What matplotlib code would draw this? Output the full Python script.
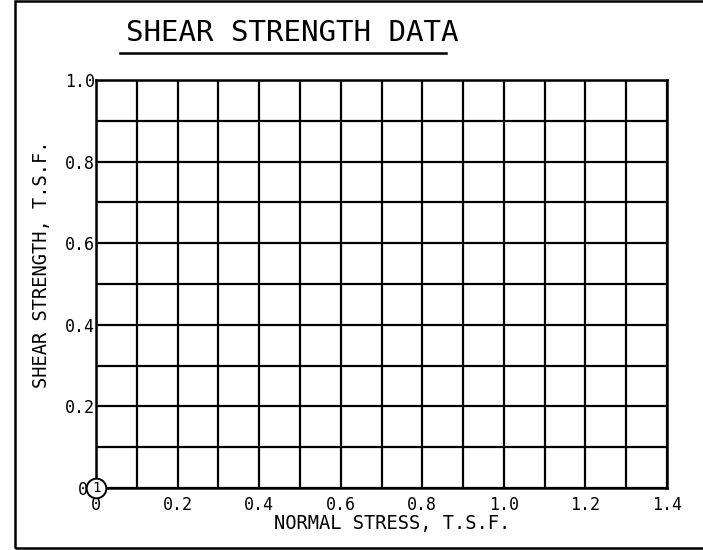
import matplotlib
matplotlib.use("Agg")
import matplotlib.pyplot as plt
import matplotlib.transforms as mtransforms
from matplotlib.patches import Rectangle
from matplotlib.lines import Line2D

# Data
x_ticks = [0, 0.2, 0.4, 0.6, 0.8, 1.0, 1.2, 1.4]
x_tick_labels = ["0", "0.2", "0.4", "0.6", "0.8", "1.0", "1.2", "1.4"]
y_ticks = [0, 0.2, 0.4, 0.6, 0.8, 1.0]
y_tick_labels = ["0", "0.2", "0.4", "0.6", "0.8", "1.0"]
x_grid = [i / 10 for i in range(15)]
y_grid = [i / 10 for i in range(11)]
normal_stress = [0.0]
shear_strength = [0.0]
point_labels = ["1"]

title = "SHEAR STRENGTH DATA"
xlabel = "NORMAL STRESS, T.S.F."
ylabel = "SHEAR STRENGTH, T.S.F."

mono = "DejaVu Sans Mono"

fig = plt.figure(figsize=(7.03, 5.5), dpi=100)
W, H = 703, 550
ax = fig.add_axes([96 / W, (H - 488) / H, (667 - 96) / W, (488 - 80) / H])
ax.set_xlim(0, 1.4)
ax.set_ylim(0, 1.0)

for xv in x_grid:
    ax.axvline(xv, color="black", lw=1.6, zorder=1)
for yv in y_grid:
    ax.axhline(yv, color="black", lw=1.6, zorder=1)
for s in ax.spines.values():
    s.set_linewidth(1.8)

ax.set_xticks(x_ticks)
ax.set_xticklabels(x_tick_labels, fontfamily=mono, fontsize=12)
ax.set_yticks(y_ticks)
ax.set_yticklabels(y_tick_labels, fontfamily=mono, fontsize=12)
ax.tick_params(axis="x", length=0, pad=6)
ax.tick_params(axis="y", length=0, pad=1)

# shift the y "0" label left of the origin marker
lab0 = ax.get_yticklabels()[0]
lab0.set_transform(lab0.get_transform() +
                   mtransforms.ScaledTranslation(-7 / 100, 0, fig.dpi_scale_trans))

ax.scatter(normal_stress, shear_strength, s=200, facecolor="white",
           edgecolor="black", linewidths=1.4, zorder=5, clip_on=False)
for xv, yv, lab in zip(normal_stress, shear_strength, point_labels):
    ax.text(xv, yv, lab, ha="center", va="center", fontfamily=mono,
            fontsize=10, zorder=6)

# Title with underline
fig.text(292 / W, 1 - 33 / H, title, ha="center", va="center",
         fontfamily=mono, fontsize=21, fontweight="light")
fig.add_artist(Line2D([120 / W, 446 / W], [1 - 53 / H, 1 - 53 / H],
                      transform=fig.transFigure, color="black", lw=1.8))

fig.text(392 / W, 1 - 524 / H, xlabel, ha="center", va="center",
         fontfamily=mono, fontsize=13.5)
fig.text(42 / W, 1 - 264 / H, ylabel, ha="center", va="center",
         rotation=90, fontfamily=mono, fontsize=13.5)

# Outer border
fig.add_artist(Rectangle((15 / W, 1 - 548 / H), (W + 10 - 15) / W, (548 - 1) / H,
                         transform=fig.transFigure, fill=False,
                         edgecolor="black", lw=1.8))

fig.savefig("out.png", dpi=100)
